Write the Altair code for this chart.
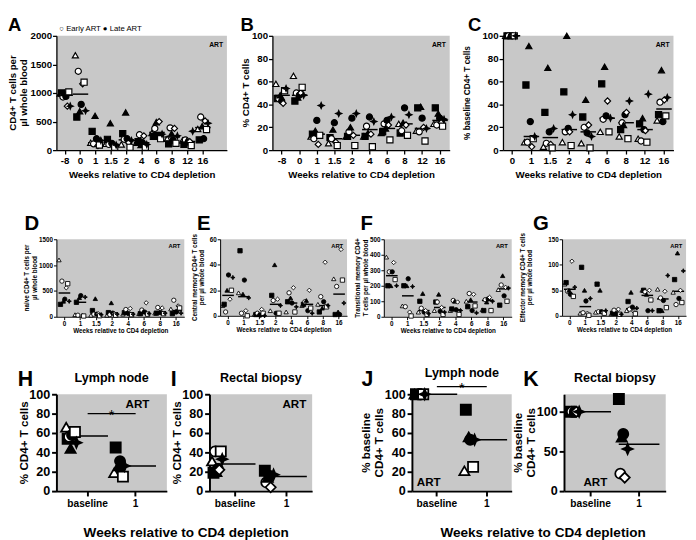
import altair as alt
import pandas as pd

FONT = "Liberation Sans"
GRAY = "#c8c8c8"

# animal order (also the left-to-right spread within a column)
ANIMALS = ["ot", "fs", "oc", "ft", "fc", "od", "os", "fd"]
STAR = "M0,-1L0.3,-0.3L1,0L0.3,0.3L0,1L-0.3,0.3L-1,0L-0.3,-0.3Z"
SHAPE = {"oc": "circle", "ot": "triangle-up", "os": "square", "od": "diamond",
         "fc": "circle", "ft": "triangle-up", "fs": "square", "fd": STAR}
FILL = {"oc": "white", "ot": "white", "os": "white", "od": "white",
        "fc": "black", "ft": "black", "fs": "black", "fd": "black"}

# ---------------- data ----------------
A_weeks = ["-8", "0", "1", "1.5", "2", "4", "6", "8", "12", "16"]
A_vals = {
    "oc": [930, 1380, 110, 100, 190, 270, 380, 390, 180, 580],
    "ot": [990, 1660, 130, 110, 100, 130, 300, 200, 170, 370],
    "os": [1020, 1190, 90, 50, 50, 50, 200, 120, 80, 360],
    "od": [770, 1160, 80, 70, 130, 250, 500, 380, 150, 510],
    "fc": [940, 800, 200, 120, 200, 130, 250, 170, 140, 200],
    "ft": [1000, 680, 600, 470, 660, 90, 490, 290, 160, 420],
    "fs": [1000, 580, 330, 190, 290, 150, 240, 110, 100, 180],
    "fd": [770, 690, 170, 90, 170, 100, 280, 250, 330, 470],
}
A_lines = [960, 980, 130, 100, 180, 130, 310, 230, 150, 395]

B_weeks = A_weeks
B_vals = {
    "oc": [45, 50, 10, 10, 16, 21, 23, 17, 16, 22],
    "ot": [58, 65, 12, 6, 12, 12, 15, 23, 17, 23],
    "os": [52, 55, 13, 4, 4, 3, 9, 13, 8, 21],
    "od": [41, 50, 5, 7, 13, 14, 22, 22, 20, 24],
    "fc": [43, 48, 26, 24, 28, 29, 26, 37, 28, 28],
    "ft": [48, 46, 17, 18, 20, 15, 19, 24, 38, 32],
    "fs": [45, 43, 14, 11, 12, 12, 16, 15, 37, 37],
    "fd": [54, 48, 39, 32, 32, 25, 29, 31, 19, 27],
}
B_lines = [48, 48, 14, 10, 13, 18, 19, 23, 19, 26]

C_weeks = ["0", "1", "1.5", "2", "4", "6", "8", "12", "16"]
C_vals = {
    "oc": [100, 7, 6, 16, 20, 27, 24, 8, 42],
    "ot": [100, 7, 3, 7, 6, 16, 12, 10, 26],
    "os": [100, 10, 2, 4, 2, 16, 10, 7, 30],
    "od": [100, 3, 5, 16, 22, 43, 33, 17, 44],
    "fc": [100, 25, 16, 19, 15, 30, 31, 18, 25],
    "ft": [100, 91, 72, 100, 44, 73, 22, 28, 70],
    "fs": [100, 57, 33, 51, 29, 58, 18, 23, 31],
    "fd": [100, 12, 19, 31, 12, 28, 43, 49, 46],
}
C_lines = [100, 12, 11, 18, 16, 28, 24, 18, 36]

D_weeks = ["0", "1", "1.5", "2", "4", "6", "8", "16"]
D_vals = {
    "oc": [690, 30, 50, 40, 140, 130, 180, 320],
    "ot": [1100, 40, 30, 30, 50, 60, 70, 150],
    "os": [640, 15, 20, 30, 40, 50, 60, 170],
    "od": [560, 20, 60, 60, 160, 270, 170, 210],
    "fc": [340, 410, 50, 70, 60, 90, 80, 100],
    "ft": [300, 370, 350, 270, 80, 100, 90, 90],
    "fs": [240, 280, 120, 80, 80, 60, 70, 60],
    "fd": [300, 380, 40, 50, 50, 60, 70, 70],
}
D_lines = [460, 280, 60, 70, 70, 70, 80, 120]

E_weeks = D_weeks
E_vals = {
    "oc": [3, 2, 2, 12, 18, 11, 15, 23],
    "ot": [8, 18, 1, 4, 3, 8, 9, 29],
    "os": [20, 0, 2, 2, 3, 6, 7, 28],
    "od": [13, 4, 5, 13, 22, 20, 42, 52],
    "fc": [32, 28, 0.5, 2, 10, 4, 11, 1],
    "ft": [20, 17, 1, 40, 14, 12, 6, 3],
    "fs": [9, 51, 1, 16, 11, 9, 3, 1],
    "fd": [30, 14, 0, 8, 7, 2, 8, 10],
}
E_lines = [16, 15, 1, 9, 10, 9, 8, 17]

F_weeks = D_weeks
F_vals = {
    "oc": [290, 65, 55, 95, 105, 150, 110, 205],
    "ot": [385, 70, 30, 40, 40, 100, 45, 175],
    "os": [240, 5, 15, 15, 15, 70, 40, 100],
    "od": [350, 30, 40, 60, 95, 145, 125, 190],
    "fc": [290, 245, 30, 35, 45, 40, 115, 135],
    "ft": [200, 200, 150, 145, 100, 110, 95, 265],
    "fs": [200, 200, 100, 95, 50, 65, 40, 75],
    "fd": [200, 195, 20, 30, 40, 25, 100, 185],
}
F_lines = [265, 135, 40, 60, 45, 95, 105, 180]

G_weeks = D_weeks
G_vals = {
    "oc": [48, 6, 8, 11, 13, 47, 35, 22],
    "ot": [62, 5, 7, 3, 10, 50, 52, 46],
    "os": [38, 1, 5, 3, 4, 31, 16, 26],
    "od": [107, 5, 7, 13, 8, 50, 48, 50],
    "fc": [42, 29, 8, 4, 17, 10, 30, 34],
    "ft": [50, 50, 50, 4, 46, 42, 10, 123],
    "fs": [65, 95, 62, 5, 28, 50, 10, 71],
    "fd": [56, 34, 10, 3, 15, 10, 79, 88],
}
G_lines = [52, 18, 8, 5, 14, 40, 33, 48]

T_weeks = ["baseline", "1"]
H_vals = {"oc": [56, None], "ot": [66, 19], "os": [61, 15], "od": [60, None],
          "fc": [58, 31], "ft": [44, 26], "fs": [54, 45], "fd": [50, 26]}
H_lines = [57, 26]
I_vals = {"oc": [41, 9], "ot": [31, None], "os": [41, None], "od": [22, 4],
          "fc": [23, 16], "ft": [20, 14], "fs": [19, 21], "fd": [33, 17]}
I_lines = [28, 15]
J_vals = {"ot": [100, 21], "os": [100, 25], "fc": [100, 53], "ft": [100, 56],
          "fs": [100, 84], "fd": [100, 53]}
J_lines = [100, 53]
K_vals = {"oc": [100, 22], "od": [100, 17], "fc": [100, 72], "ft": [100, 68],
          "fs": [100, 116], "fd": [100, 53]}
K_lines = [100, 59]

XT = "Weeks relative to CD4 depletion"

ROW1 = dict(lab=10, tit=10, lh=11.5, size=40, sw=1.2, tl=4, dw=1.3, tw=16, art=7,
            lpad=1, tpad=3, xlpad=2, xtpad=4)
ROW2 = dict(lab=6.5, tit=6.5, lh=7.5, size=20, sw=0.9, tl=3, dw=1, tw=12, art=6,
            lpad=1, tpad=2, xlpad=1, xtpad=1)
ROW3 = dict(lab=13, xlab=10.5, tit=12, lh=13.5, size=110, sw=1.8, tl=5, dw=2, tw=42, art=12,
            lpad=2, tpad=1, xlpad=3, xtpad=4)


def txt(text, x, y, size, bold=True, align="left", baseline="alphabetic", angle=0):
    return alt.Chart(pd.DataFrame({"t": [text]})).mark_text(
        font=FONT, fontWeight="bold" if bold else "normal", fontSize=size,
        align=align, baseline=baseline, color="black", angle=angle
    ).encode(text="t:N", x=alt.value(x), y=alt.value(y))


def panel(letter, xs, vals, lines, ymax, yticks, w, h, ytitle, xtitle, st,
          po=0.0, pad_cat=False, art=("tr", 4, 9), sub=None, sig=None, legend=False,
          tgap=0, tsize=None):
    dom = xs + (["pad"] if pad_cat else [])
    rows = []
    for a in ANIMALS:
        for x, v in zip(xs, vals.get(a, [None] * len(xs))):
            if v is not None:
                rows.append({"week": x, "animal": a, "value": v})
    pts = pd.DataFrame(rows)
    ln = pd.DataFrame({"week": xs, "value": lines})

    step = w / (len(dom) + 2 * po)
    xscale = alt.Scale(domain=dom, paddingInner=0, paddingOuter=po)
    xaxis = alt.Axis(values=xs, title=xtitle, labelAngle=0, labelFont=FONT,
                     labelFontSize=st.get("xlab", st["lab"]), labelFontWeight="bold",
                     labelColor="black", titleFont=FONT, titleFontSize=st["tit"],
                     titleFontWeight="bold", titleColor="black", domainColor="black",
                     domainWidth=st["dw"], tickColor="black", tickWidth=st["dw"],
                     tickSize=st["tl"], labelPadding=st["xlpad"], titlePadding=st["xtpad"],
                     grid=False)
    yaxis = alt.Axis(values=yticks, format="d", title=None, labelFont=FONT,
                     labelFontSize=st["lab"], labelFontWeight="bold", labelColor="black",
                     domainColor="black", domainWidth=st["dw"], tickColor="black",
                     tickWidth=st["dw"], tickSize=st["tl"], labelPadding=st["lpad"], grid=False)
    yscale = alt.Scale(domain=[0, ymax], nice=False, zero=True)
    X = alt.X("week:N", scale=xscale, axis=xaxis)
    Y = alt.Y("value:Q", scale=yscale, axis=yaxis)

    points = alt.Chart(pts).mark_point(
        opacity=1, stroke="black", strokeWidth=st["sw"], size=st["size"]
    ).encode(
        x=X, y=Y,
        xOffset=alt.XOffset("animal:N", scale=alt.Scale(domain=ANIMALS, range=[0.12 * step, 0.88 * step])),
        shape=alt.Shape("animal:N", scale=alt.Scale(domain=ANIMALS, range=[SHAPE[a] for a in ANIMALS]), legend=None),
        fill=alt.Fill("animal:N", scale=alt.Scale(domain=ANIMALS, range=[FILL[a] for a in ANIMALS]), legend=None),
    )
    ticks = alt.Chart(ln).mark_tick(color="black", thickness=1.5, size=st["tw"], opacity=1).encode(x=X, y=Y)
    layers = [ticks, points]

    # rotated y-axis title, one text mark per line, placed left of the labels
    ts = tsize or st["tit"]
    labw = len(str(max(yticks))) * 0.556 * st["lab"]
    inner = -(st["tl"] + st["lpad"] + labw + st["tpad"] + tgap)
    n = len(ytitle)
    for i, line in enumerate(ytitle):
        layers.append(txt(line, inner - (n - 1 - i) * st["lh"], h / 2, ts,
                          align="center", angle=270))

    corner, ax, ay = art
    if corner == "tr":
        layers.append(txt("ART", w - ax, ay, st["art"], align="right", baseline="middle"))
    else:
        layers.append(txt("ART", ax, h - ay, st["art"], align="left", baseline="middle"))

    lt, lx, ly, lsize = letter
    layers.append(txt(lt, lx, ly, lsize))

    if legend:
        layers.append(txt("○ Early ART ● Late ART", 3, -7, 8, bold=False, baseline="middle"))
    if sub:
        stext, sy = sub
        layers.append(txt(stext, w / 2, sy, 13, align="center", baseline="middle"))
    if sig is not None:
        sdf = pd.DataFrame({"week": [xs[0]], "week2": [xs[1]], "value": [sig], "star": ["*"]})
        layers.append(alt.Chart(sdf).mark_rule(color="black", strokeWidth=1.3).encode(
            x=X, x2="week2:N", y=Y))
        layers.append(alt.Chart(sdf).mark_text(
            font=FONT, fontSize=15, align="center", baseline="bottom", color="black", dy=10
        ).encode(x=alt.X("week:N", scale=xscale, axis=xaxis, bandPosition=1), y=Y, text="star:N"))

    return alt.layer(*layers).properties(width=w, height=h)


A = panel(("A", -50, -5, 19), A_weeks, A_vals, A_lines, 2000, [0, 500, 1000, 1500, 2000], 176, 118,
          ["CD4+ T cells per", "µl whole blood"], XT, ROW1, po=0.07, pad_cat=True, legend=True)
B = panel(("B", -33, -5, 19), B_weeks, B_vals, B_lines, 100, [0, 20, 40, 60, 80, 100], 183, 118,
          ["% CD4+ T cells"], XT, ROW1, po=0.05)
C = panel(("C", -36, -5, 19), C_weeks, C_vals, C_lines, 100, [0, 20, 40, 60, 80, 100], 176, 118,
          ["% baseline CD4+ T cells"], XT, ROW1, tgap=9, tsize=8.5)

D = panel(("D", -33, -10, 21), D_weeks, D_vals, D_lines, 1500, [0, 500, 1000, 1500], 132, 80,
          ["naive CD4+ T cells per", "µl whole blood"], XT, ROW2, art=("tr", 4, 7))
E = panel(("E", -24, -10, 21), E_weeks, E_vals, E_lines, 60, [0, 20, 40, 60], 131, 79,
          ["Central memory CD4+ T cells", "per µl whole blood"], XT, ROW2, art=("tr", 4, 7), tgap=3)
F = panel(("F", -24, -10, 21), F_weeks, F_vals, F_lines, 500, [0, 100, 200, 300, 400, 500], 132, 80,
          ["Transitional memory CD4+", "T cells per µl whole blood"], XT, ROW2, art=("tr", 4, 7))
G = panel(("G", -30, -10, 21), G_weeks, G_vals, G_lines, 150, [0, 50, 100, 150], 128, 79,
          ["Effector memory CD4+ T cells", "per µl whole blood"], XT, ROW2, art=("tr", 4, 7), tgap=14)

H = panel(("H", -40, -9, 22), T_weeks, H_vals, H_lines, 100, [0, 20, 40, 60, 80, 100], 114, 100,
          ["% CD4+ T cells"], None, ROW3, po=0.15, art=("tr", 18, 10), sub=("Lymph node", -17), sig=80)
I = panel(("I", -40, -9, 22), T_weeks, I_vals, I_lines, 100, [0, 20, 40, 60, 80, 100], 106, 100,
          ["% CD4+ T cells"], None, ROW3, art=("tr", 6, 10), sub=("Rectal biopsy", -17))
J = panel(("J", -52, -9, 22), T_weeks, J_vals, J_lines, 100, [0, 20, 40, 60, 80, 100], 103, 100,
          ["% baseline", "CD4+ T cells"], None, ROW3, art=("bl", 5, 9), sub=("Lymph node", -22), sig=108)
K = panel(("K", -42, -9, 22), T_weeks, K_vals, K_lines, 122, [0, 50, 100], 105, 100,
          ["% baseline", "CD4+ T cells"], None, ROW3, po=0.05, art=("bl", 20, 9), sub=("Rectal biopsy", -17))

bottom_title = dict(orient="bottom", anchor="middle", font=FONT, fontSize=14,
                    fontWeight="bold", color="black", offset=18)
HI = alt.hconcat(H, I, spacing=4).properties(title=alt.TitleParams(XT, dx=22, **bottom_title))
JK = alt.hconcat(J, K, spacing=0).properties(title=alt.TitleParams(XT, dx=31, **bottom_title))

row1 = alt.hconcat(A, B, C, spacing=14)
row2 = alt.hconcat(D, E, F, G, spacing=7)
row3 = alt.hconcat(HI, JK, spacing=49)

chart = alt.vconcat(alt.vconcat(row1, row2, spacing=35), row3, spacing=34).properties(
    padding=0, background="white"
).configure_view(fill=GRAY, stroke=None)

chart.save("out.html", embed_options={"renderer": "svg", "actions": False})
